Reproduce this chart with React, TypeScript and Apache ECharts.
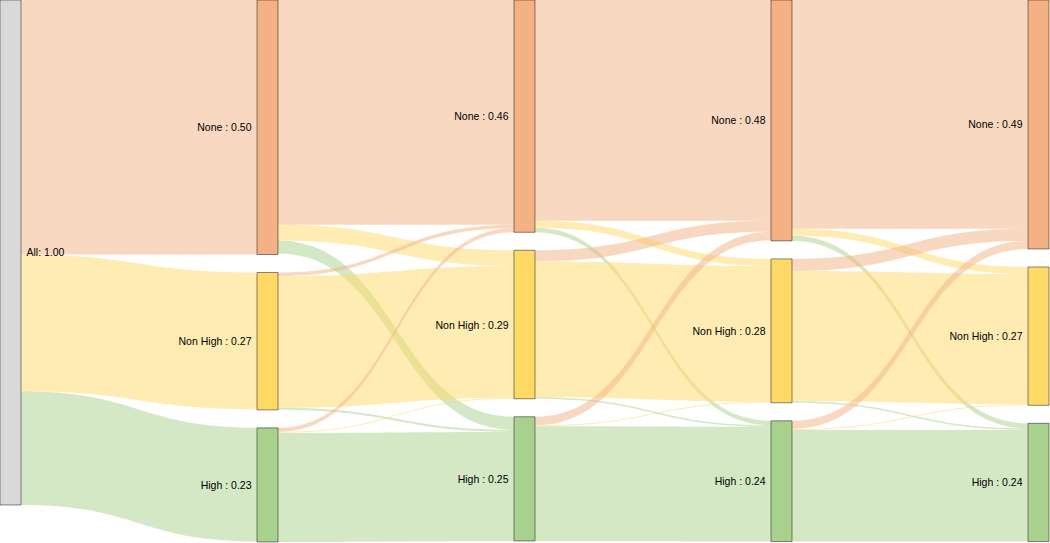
import React, { useEffect, useRef } from "react";
import * as echarts from "echarts";

const columns = ["1", "2", "3", "4"];
const categories = ["None", "Non High", "High"];
const categoryColors = ["#f4b183", "#ffd966", "#a9d18e"];

// displayed node values per column (None, Non High, High)
const nodeLabels = [
  [0.5, 0.27, 0.23],
  [0.46, 0.29, 0.25],
  [0.48, 0.28, 0.24],
  [0.49, 0.27, 0.24],
];

// All -> column 1
const allFlows = [0.504, 0.271, 0.225];

// transition flows: [from][to] for None, Non High, High
const flows12 = [
  [0.445, 0.031, 0.026],
  [0.007, 0.261, 0.004],
  [0.008, 0.002, 0.216],
];
const flows23 = [
  [0.437, 0.014, 0.009],
  [0.022, 0.269, 0.003],
  [0.017, 0.002, 0.227],
];
const flows34 = [
  [0.453, 0.014, 0.01],
  [0.024, 0.258, 0.003],
  [0.016, 0.002, 0.221],
];
const transitions = [flows12, flows23, flows34];

export default function App() {
  const ref = useRef<HTMLDivElement>(null);

  useEffect(() => {
    if (!ref.current) return;
    const chart = echarts.init(ref.current, null, { renderer: "svg" });

    const nodes: any[] = [
      {
        name: "All",
        itemStyle: { color: "#d9d9d9", borderColor: "rgba(0,0,0,0.45)", borderWidth: 1 },
        label: { position: "right", formatter: "All: 1.00" },
      },
    ];
    const labelMap: Record<string, string> = {};
    columns.forEach((c, ci) => {
      categories.forEach((cat, ki) => {
        const name = cat + "_" + c;
        labelMap[name] = cat + " : " + nodeLabels[ci][ki].toFixed(2);
        nodes.push({
          name,
          itemStyle: { color: categoryColors[ki], borderColor: "rgba(0,0,0,0.45)", borderWidth: 1 },
        });
      });
    });

    const links: any[] = [];
    categories.forEach((cat, ki) => {
      links.push({
        source: "All",
        target: cat + "_1",
        value: allFlows[ki],
        lineStyle: { color: categoryColors[ki] },
      });
    });
    transitions.forEach((m, ti) => {
      m.forEach((row, fi) => {
        row.forEach((v, tj) => {
          links.push({
            source: categories[fi] + "_" + columns[ti],
            target: categories[tj] + "_" + columns[ti + 1],
            value: v,
            lineStyle: { color: categoryColors[tj] },
          });
        });
      });
    });

    chart.setOption({
      animation: false,
      series: [
        {
          type: "sankey",
          left: 0,
          right: 1,
          top: 0,
          bottom: 1,
          nodeWidth: 21,
          nodeGap: 18,
          layoutIterations: 0,
          draggable: false,
          emphasis: { disabled: true },
          data: nodes,
          links,
          label: {
            position: "left",
            distance: 5,
            color: "#000",
            fontSize: 10.5,
            fontFamily: "Liberation Sans, Arial, sans-serif",
            formatter: (p: any) => labelMap[p.name] ?? p.name,
          },
          lineStyle: { opacity: 0.5, curveness: 0.5 },
        },
      ],
    });
    return () => chart.dispose();
  }, []);

  return (
    <div
      ref={ref}
      style={{ position: "absolute", left: 0, top: 0, width: 1050, height: 543 }}
    />
  );
}
